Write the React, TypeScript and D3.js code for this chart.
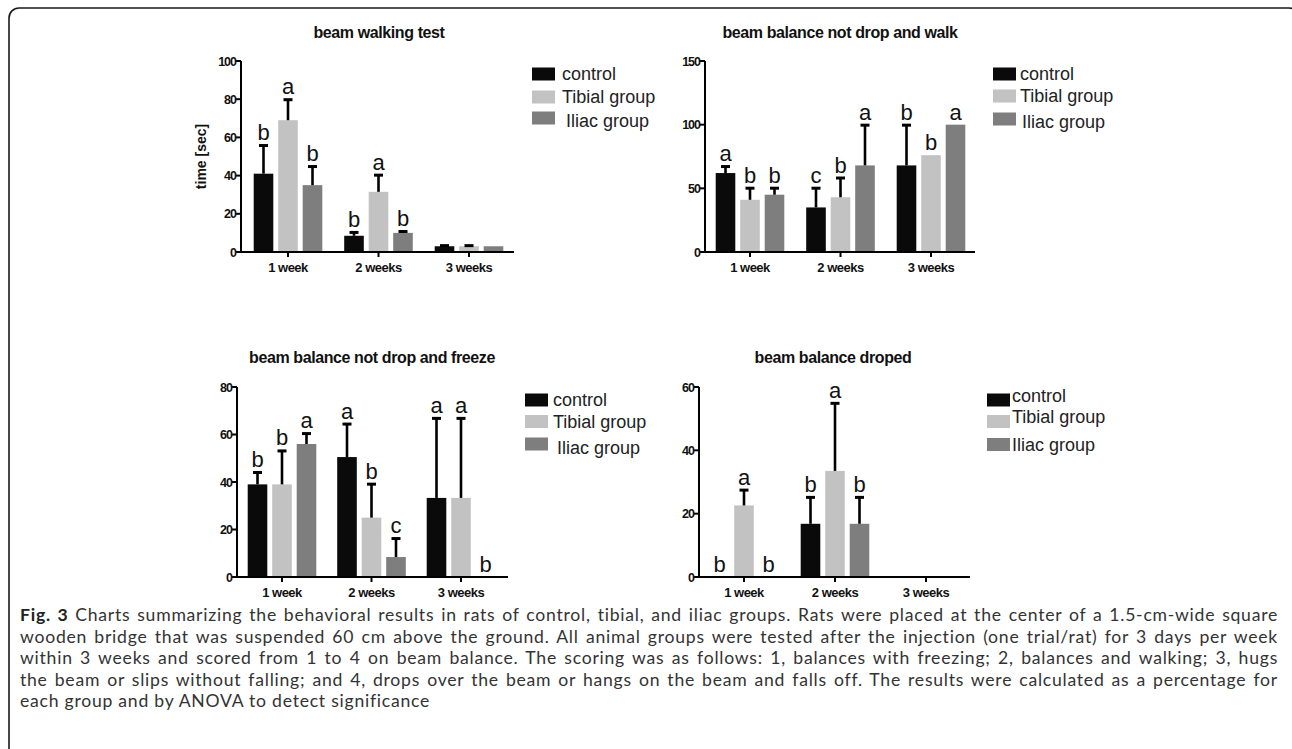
import React, { useLayoutEffect, useRef } from "react";
import * as d3 from "d3";

// ---------- data ----------
const categories = ["1 week", "2 weeks", "3 weeks"];
const groups = ["control", "Tibial group", "Iliac group"];
const groupColors = ["#0a0a0a", "#c2c2c2", "#7e7e7e"];

// beam walking test, time [sec]  (rows = weeks, cols = groups)
const walkingMeans = [[41, 69, 35], [8.5, 31.5, 10], [3, 3, 3]];
const walkingSD = [[15, 11, 10], [2, 9, 1], [0.6, 0.6, 0]];
const walkingLetters = [["b", "a", "b"], ["b", "a", "b"], ["", "", ""]];
const walkingTicks = [0, 20, 40, 60, 80, 100];

// beam balance not drop and walk
const walkBalMeans = [[62, 41, 45], [35, 43, 68], [68, 76, 100]];
const walkBalSD = [[5.5, 9.5, 5.5], [15.5, 15.5, 32], [32, 0, 0]];
const walkBalLetters = [["a", "b", "b"], ["c", "b", "a"], ["b", "b", "a"]];
const walkBalTicks = [0, 50, 100, 150];

// beam balance not drop and freeze
const freezeMeans = [[39, 39, 56], [50.5, 25, 8.4], [33.3, 33.3, 0]];
const freezeSD = [[5.2, 14.3, 4.6], [14.1, 14.3, 8], [33.7, 33.7, 0]];
const freezeLetters = [["b", "b", "a"], ["a", "b", "c"], ["a", "a", "b"]];
const freezeTicks = [0, 20, 40, 60, 80];

// beam balance droped
const dropMeans = [[0, 22.6, 0], [16.8, 33.5, 16.8], [0, 0, 0]];
const dropSD = [[0, 5, 0], [8.5, 21.5, 8.5], [0, 0, 0]];
const dropLetters = [["b", "a", "b"], ["b", "a", "b"], ["", "", ""]];
const dropTicks = [0, 20, 40, 60];

const captionLines = [
  "Charts summarizing the behavioral results in rats of control, tibial, and iliac groups. Rats were placed at the center of a 1.5-cm-wide square",
  "wooden bridge that was suspended 60 cm above the ground. All animal groups were tested after the injection (one trial/rat) for 3 days per week",
  "within 3 weeks and scored from 1 to 4 on beam balance. The scoring was as follows: 1, balances with freezing; 2, balances and walking; 3, hugs",
  "the beam or slips without falling; and 4, drops over the beam or hangs on the beam and falls off. The results were calculated as a percentage for",
  "each group and by ANOVA to detect significance",
];

// ---------- layout ----------
const panels = [
  {
    title: "beam walking test", means: walkingMeans, sd: walkingSD, letters: walkingLetters, ticks: walkingTicks,
    x0: 241, x1: 514, yTop: 61, yBottom: 252, c0: 288, c2: 469, titleX: 379, titleY: 38, yLabel: "time [sec]",
    sqX: 532, txtX: 562, sqRows: [74, 97, 118], txtRows: [74, 97, 121], indent: 4,
  },
  {
    title: "beam balance not drop and walk", means: walkBalMeans, sd: walkBalSD, letters: walkBalLetters, ticks: walkBalTicks,
    x0: 705, x1: 975, yTop: 61, yBottom: 252, c0: 750, c2: 931, titleX: 840, titleY: 38, yLabel: "",
    sqX: 993, txtX: 1020, sqRows: [74, 96, 119], txtRows: [74, 96, 122], indent: 2,
  },
  {
    title: "beam balance not drop and freeze", means: freezeMeans, sd: freezeSD, letters: freezeLetters, ticks: freezeTicks,
    x0: 237, x1: 508, yTop: 387, yBottom: 577, c0: 282, c2: 461, titleX: 372, titleY: 363, yLabel: "",
    sqX: 525, txtX: 553, sqRows: [400, 421.5, 444], txtRows: [400, 422, 448], indent: 4,
  },
  {
    title: "beam balance droped", means: dropMeans, sd: dropSD, letters: dropLetters, ticks: dropTicks,
    x0: 699, x1: 970, yTop: 387, yBottom: 577, c0: 744, c2: 926, titleX: 833, titleY: 363, yLabel: "",
    sqX: 987, txtX: 1012, sqRows: [400, 421.5, 444.5], txtRows: [396, 417, 445], indent: 0,
  },
];

const FONT = "'Liberation Sans', Arial, Helvetica, sans-serif";

function Panel({ p }: { p: any }) {
  const yMax = p.ticks[p.ticks.length - 1];
  const y = d3.scaleLinear().domain([0, yMax]).range([p.yBottom, p.yTop]);
  const x = d3.scalePoint<string>().domain(categories).range([p.c0, p.c2]);
  const g = d3.scaleBand<string>().domain(groups).range([-34.3, 34.3]).paddingInner(0.2);
  const bw = g.bandwidth();
  return (
    <g>
      <text x={p.titleX} y={p.titleY} textAnchor="middle" fontFamily={FONT} fontWeight="bold" fontSize={16} fill="#111" letterSpacing={-0.4}>
        {p.title}
      </text>
      {categories.map((c, ci) =>
        groups.map((gr, gi) => {
          const m = p.means[ci][gi];
          const s = p.sd[ci][gi];
          const cx = (x(c) as number) + (g(gr) as number) + bw / 2;
          const top = y(m + s);
          const letter = p.letters[ci][gi];
          return (
            <g key={c + gr}>
              {m > 0 && (
                <rect x={cx - bw / 2} y={y(m)} width={bw} height={p.yBottom - y(m)} fill={groupColors[gi]} />
              )}
              {s > 0 && (
                <g stroke="#000">
                  <line x1={cx} x2={cx} y1={y(m)} y2={top} strokeWidth={2.6} />
                  <line x1={cx - 4.5} x2={cx + 4.5} y1={top + 0.5} y2={top + 0.5} strokeWidth={3} />
                </g>
              )}
              {letter && (
                <text x={cx} y={Math.min(top, y(m)) - 5} textAnchor="middle" fontFamily={FONT} fontSize={22} fill="#111">
                  {letter}
                </text>
              )}
            </g>
          );
        })
      )}
      {/* y axis */}
      <line x1={p.x0} x2={p.x0} y1={p.yTop} y2={p.yBottom} stroke="#000" strokeWidth={2} />
      {p.ticks.map((t: number) => (
        <g key={t}>
          <line x1={p.x0 - 5} x2={p.x0} y1={y(t)} y2={y(t)} stroke="#000" strokeWidth={2} />
          <text x={p.x0 - 5} y={y(t)} dy="0.36em" textAnchor="end" fontFamily={FONT} fontWeight="bold" fontSize={12.5} letterSpacing={-1} fill="#111">
            {t}
          </text>
        </g>
      ))}
      {/* x axis */}
      <line x1={p.x0 - 1} x2={p.x1} y1={p.yBottom} y2={p.yBottom} stroke="#000" strokeWidth={2} />
      {categories.map((c) => (
        <g key={c}>
          <line x1={x(c)} x2={x(c)} y1={p.yBottom} y2={p.yBottom + 5} stroke="#000" strokeWidth={2} />
          <text x={x(c)} y={p.yBottom + 20} textAnchor="middle" fontFamily={FONT} fontWeight="bold" fontSize={13} letterSpacing={-0.5} fill="#111">
            {c}
          </text>
        </g>
      ))}
      {p.yLabel && (
        <text transform={`translate(${p.x0 - 35},${(p.yTop + p.yBottom) / 2}) rotate(-90)`} textAnchor="middle" fontFamily={FONT} fontWeight="bold" fontSize={14} fill="#111">
          {p.yLabel}
        </text>
      )}
      {/* legend */}
      {groups.map((gr, gi) => (
        <g key={gr}>
          <rect x={p.sqX} y={p.sqRows[gi] - 6.5} width={23} height={13} fill={groupColors[gi]} />
          <text x={p.txtX + (gi === 2 ? p.indent : 0)} y={p.txtRows[gi]} dy="0.35em" fontFamily={FONT} fontSize={18} fill="#222">
            {gr}
          </text>
        </g>
      ))}
    </g>
  );
}

export default function App() {
  const refs = useRef<(SVGTextElement | null)[]>([]);
  const capLeft = 20;
  const capRight = 1278;
  useLayoutEffect(() => {
    refs.current.forEach((el, i) => {
      if (!el || i === captionLines.length - 1) return;
      el.setAttribute("word-spacing", "0");
      const len = el.getComputedTextLength();
      const txt = el.textContent || "";
      const spaces = (txt.match(/ /g) || []).length;
      if (spaces > 0) el.setAttribute("word-spacing", String((capRight - capLeft - len) / spaces));
    });
  }, []);
  const capY = [621, 642.5, 664, 685.5, 707];
  return (
    <svg width={1292} height={749} style={{ position: "absolute", left: 0, top: 0, background: "#fff" }}>
      <rect x={9} y={8} width={1290} height={750} rx={10} fill="none" stroke="#1a1a1a" strokeWidth={1.6} />
      {panels.map((p, i) => (
        <Panel key={i} p={p} />
      ))}
      {captionLines.map((line, i) => (
        <text key={i} ref={(el) => { refs.current[i] = el; }} x={capLeft} y={capY[i]} fontFamily="Lato, 'Open Sans', sans-serif" fontSize={17.6} letterSpacing={0.75} fill="#333">
          {i === 0 && <tspan fontWeight="bold" fill="#222">Fig. 3 </tspan>}
          {line}
        </text>
      ))}
    </svg>
  );
}
